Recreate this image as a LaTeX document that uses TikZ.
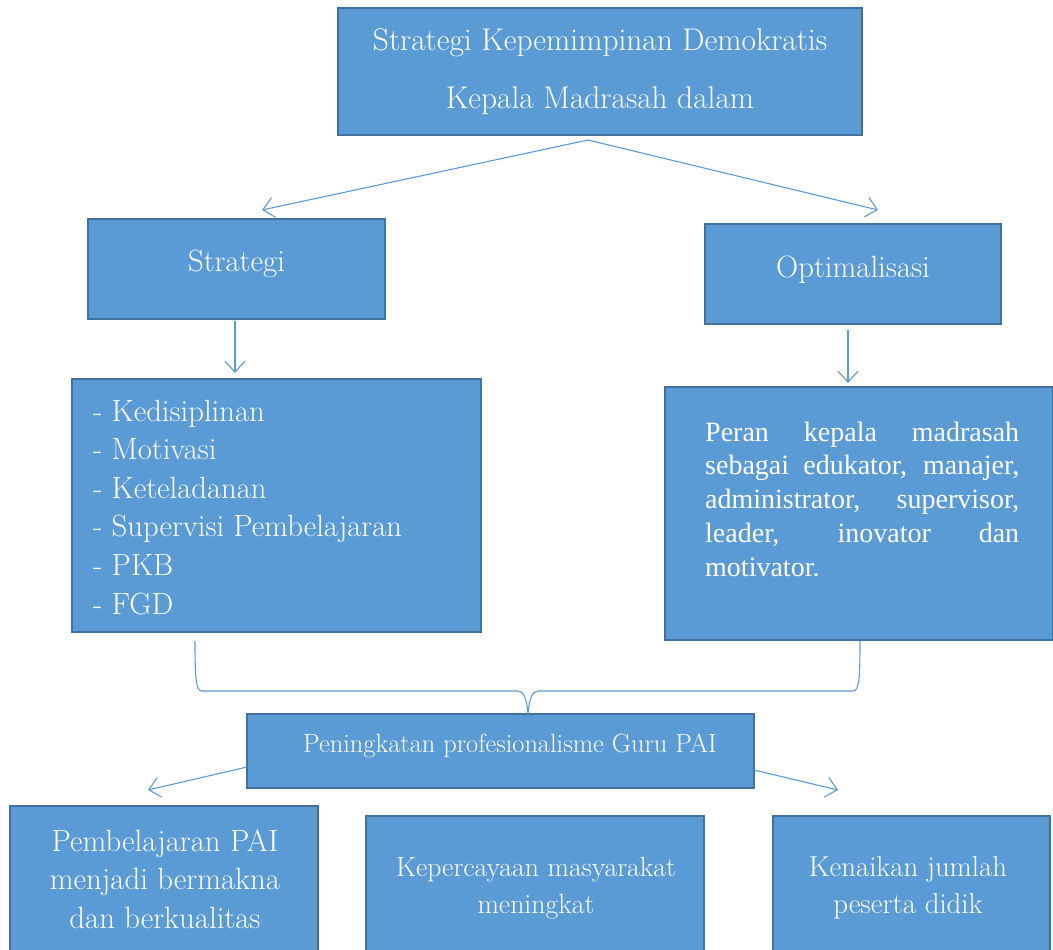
\documentclass[tikz,border=0pt]{standalone}
\usepackage{fontspec}
\newfontfamily\timesfont{Liberation Serif}
\usetikzlibrary{arrows.meta}
\definecolor{boxfill}{HTML}{5B9BD5}
\definecolor{boxline}{HTML}{41719C}
\definecolor{arrowc}{HTML}{5B9BD5}
\newcommand{\jline}[1]{\makebox[314pt][s]{#1}}
\begin{document}
\begin{tikzpicture}[x=1pt,y=-1pt,
  box/.style={draw=boxline,line width=2.6pt,fill=boxfill,rectangle,inner sep=0pt},
  txt/.style={text=white,inner sep=0pt,anchor=base},
  conn/.style={draw=arrowc,line width=1.1pt,-{Straight Barb[length=11pt,width=20pt,line width=1.1pt]}},
  brace/.style={draw=arrowc,line width=1.1pt}]
\useasboundingbox (0,0) rectangle (1053,950);
% boxes
\node[box,minimum width=524pt,minimum height=127pt] (top) at (600,71.5) {};
\node[box,minimum width=297pt,minimum height=100pt] (strat) at (236.5,269) {};
\node[box,minimum width=296pt,minimum height=100pt] (optim) at (853,274) {};
\node[box,minimum width=409pt,minimum height=253pt] (list) at (276.5,505.5) {};
\node[box,minimum width=388pt,minimum height=253pt] (peran) at (859,513.5) {};
\node[box,minimum width=507pt,minimum height=74pt] (pen) at (500.5,751) {};
\node[box,minimum width=308pt,minimum height=170pt] (b1) at (164,891) {};
\node[box,minimum width=338pt,minimum height=160pt] (b2) at (535,896) {};
\node[box,minimum width=277pt,minimum height=160pt] (b3) at (911.5,896) {};
% texts
\node[txt,font=\fontsize{31.4}{57}\selectfont] (t1) at (600,51) {Strategi Kepemimpinan Demokratis};
\node[txt,font=\fontsize{31.4}{57}\selectfont] (t2) at (600,108) {Kepala Madrasah dalam};
\node[txt,font=\fontsize{30.8}{33}\selectfont] (ts) at (236.5,271) {Strategi};
\node[txt,font=\fontsize{30.8}{33}\selectfont] (to) at (853,277) {Optimalisasi};
\node[txt,font=\fontsize{30.7}{38.6}\selectfont,anchor=base west,align=left] (tl) at (93,614) {- Kedisiplinan\\- Motivasi\\- Keteladanan\\- Supervisi Pembelajaran\\- PKB\\- FGD};
\node[txt,font=\timesfont\fontsize{28}{33.7}\selectfont,anchor=base west,align=left] (tp) at (705,576) {\jline{Peran kepala madrasah}\\\jline{sebagai edukator, manajer,}\\\jline{administrator, supervisor,}\\\jline{leader, inovator dan}\\motivator.};
\node[txt,font=\fontsize{26.4}{30}\selectfont] (tpen) at (510,752) {Peningkatan profesionalisme Guru PAI};
\node[txt,font=\fontsize{30.8}{38.5}\selectfont,align=center] (tb1) at (165,928) {Pembelajaran PAI\\menjadi bermakna\\dan berkualitas};
\node[txt,font=\fontsize{27.8}{37}\selectfont,align=center] (tb2) at (536,913) {Kepercayaan masyarakat\\meningkat};
\node[txt,font=\fontsize{28.8}{37}\selectfont,align=center] (tb3) at (908,913) {Kenaikan jumlah\\peserta didik};
% connectors
\coordinate (apex) at (588,140);
\coordinate (sL) at (262,210);
\coordinate (sR) at (878,210);
\draw[conn] (apex) -- (sL);
\draw[conn] (apex) -- (sR);
\coordinate (d1a) at (235,321);
\coordinate (d1b) at (235,373);
\coordinate (d2a) at (848,330);
\coordinate (d2b) at (848,383);
\draw[conn] (d1a) -- (d1b);
\draw[conn] (d2a) -- (d2b);
\coordinate (pl) at (247,767);
\coordinate (plt) at (148,790);
\coordinate (pr) at (754,770);
\coordinate (prt) at (838,790);
\draw[conn] (pl) -- (plt);
\draw[conn] (pr) -- (prt);
% brace
\coordinate (bl) at (195,641);
\coordinate (br) at (860,641);
\coordinate (bm) at (528,714);
\draw[brace] (bl) .. controls (195,680) and (196,691) .. (202,691) -- (518,691) .. controls (524,691) and (527,700) .. (bm);
\draw[brace] (br) .. controls (860,680) and (859,691) .. (853,691) -- (538,691) .. controls (532,691) and (529,700) .. (bm);
\end{tikzpicture}
\end{document}
